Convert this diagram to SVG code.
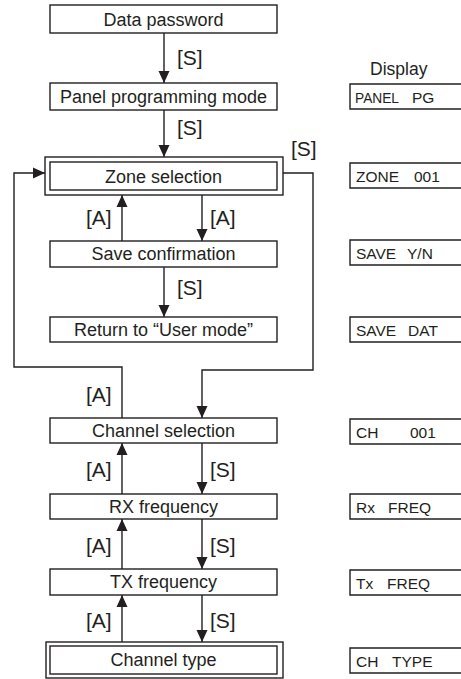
<svg xmlns="http://www.w3.org/2000/svg" width="461" height="679" viewBox="0 0 461 679">
<style>
.box{fill:#fff;stroke:#231f20;stroke-width:1.4}
.ln{fill:none;stroke:#231f20;stroke-width:1.4}
.t{font-family:"Liberation Sans",Arial,sans-serif;font-size:18px;fill:#231f20;text-anchor:middle}
.k{font-family:"Liberation Sans",Arial,sans-serif;font-size:21px;fill:#231f20}
.d{font-family:"Liberation Sans",Arial,sans-serif;font-size:15.5px;fill:#231f20}
</style>
<defs>
<marker id="ah" markerUnits="userSpaceOnUse" markerWidth="12" markerHeight="12" viewBox="0 0 12 12" refX="12" refY="6" orient="auto">
<path d="M0,0.5 L12,6 L0,11.5 Z" fill="#231f20"/>
</marker>
</defs>
<g id="connectors">
<line class="ln" x1="164" y1="33" x2="164" y2="83" marker-end="url(#ah)"/>
<line class="ln" x1="164" y1="110" x2="164" y2="157" marker-end="url(#ah)"/>
<line class="ln" x1="122" y1="241" x2="122" y2="195" marker-end="url(#ah)"/>
<line class="ln" x1="202" y1="195" x2="202" y2="241" marker-end="url(#ah)"/>
<line class="ln" x1="164" y1="267" x2="164" y2="317" marker-end="url(#ah)"/>
<polyline class="ln" points="122,418 122,367 14,367 14,173 45,173" marker-end="url(#ah)"/>
<polyline class="ln" points="283,173 313,173 313,370 202,370 202,418" marker-end="url(#ah)"/>
<line class="ln" x1="122" y1="494" x2="122" y2="443" marker-end="url(#ah)"/>
<line class="ln" x1="202" y1="443" x2="202" y2="494" marker-end="url(#ah)"/>
<line class="ln" x1="122" y1="569" x2="122" y2="519" marker-end="url(#ah)"/>
<line class="ln" x1="202" y1="519" x2="202" y2="569" marker-end="url(#ah)"/>
<line class="ln" x1="122" y1="642" x2="122" y2="595" marker-end="url(#ah)"/>
<line class="ln" x1="202" y1="595" x2="202" y2="642" marker-end="url(#ah)"/>
<text class="k" x="177" y="65">[S]</text>
<text class="k" x="177" y="135">[S]</text>
<text class="k" x="291" y="156">[S]</text>
<text class="k" x="86" y="225">[A]</text>
<text class="k" x="210" y="225">[A]</text>
<text class="k" x="177" y="295">[S]</text>
<text class="k" x="86" y="402">[A]</text>
<text class="k" x="86" y="477">[A]</text>
<text class="k" x="210" y="477">[S]</text>
<text class="k" x="86" y="553">[A]</text>
<text class="k" x="210" y="553">[S]</text>
<text class="k" x="86" y="628">[A]</text>
<text class="k" x="210" y="628">[S]</text>
</g>
<g id="data-password"><rect class="box" x="50" y="5" width="227" height="28"/><text class="t" x="163.5" y="26">Data password</text></g>
<g id="panel-programming"><rect class="box" x="50" y="83" width="227" height="27"/><text class="t" x="163.5" y="103">Panel programming mode</text></g>
<g id="zone-selection"><rect class="box" x="45" y="157" width="238" height="38"/><rect class="box" x="50" y="162" width="227" height="28"/><text class="t" x="163.5" y="182.5">Zone selection</text></g>
<g id="save-confirmation"><rect class="box" x="50" y="241" width="227" height="26"/><text class="t" x="163.5" y="260">Save confirmation</text></g>
<g id="return-user"><rect class="box" x="50" y="317" width="227" height="25"/><text class="t" x="163.5" y="336">Return to “User mode”</text></g>
<g id="channel-selection"><rect class="box" x="50" y="418" width="227" height="25"/><text class="t" x="163.5" y="437">Channel selection</text></g>
<g id="rx-frequency"><rect class="box" x="50" y="494" width="227" height="25"/><text class="t" x="163.5" y="513">RX frequency</text></g>
<g id="tx-frequency"><rect class="box" x="50" y="569" width="227" height="26"/><text class="t" x="163.5" y="588">TX frequency</text></g>
<g id="channel-type"><rect class="box" x="46" y="642" width="237" height="36"/><rect class="box" x="50" y="646" width="227" height="28"/><text class="t" x="163.5" y="666">Channel type</text></g>
<g id="display">
<text class="k" x="370" y="75" style="font-size:17.5px">Display</text>
<path class="ln" d="M461,84 H350 V109 H461"/><text class="d" x="355" y="103" textLength="44" lengthAdjust="spacingAndGlyphs">PANEL</text><text class="d" x="412" y="103">PG</text>
<path class="ln" d="M461,163 H350 V188 H461"/><text class="d" x="356" y="182">ZONE</text><text class="d" x="414" y="182">001</text>
<path class="ln" d="M461,240 H350 V265 H461"/><text class="d" x="356" y="259">SAVE</text><text class="d" x="407" y="259">Y/N</text>
<path class="ln" d="M461,317 H350 V342 H461"/><text class="d" x="356" y="336">SAVE</text><text class="d" x="408" y="336">DAT</text>
<path class="ln" d="M461,419 H350 V444 H461"/><text class="d" x="356" y="438">CH</text><text class="d" x="410" y="438">001</text>
<path class="ln" d="M461,494 H350 V519 H461"/><text class="d" x="356" y="513">Rx</text><text class="d" x="388" y="513">FREQ</text>
<path class="ln" d="M461,570 H350 V595 H461"/><text class="d" x="356" y="589">Tx</text><text class="d" x="387" y="589">FREQ</text>
<path class="ln" d="M461,648 H350 V673 H461"/><text class="d" x="356" y="667">CH</text><text class="d" x="392" y="667">TYPE</text>
</g>
</svg>
